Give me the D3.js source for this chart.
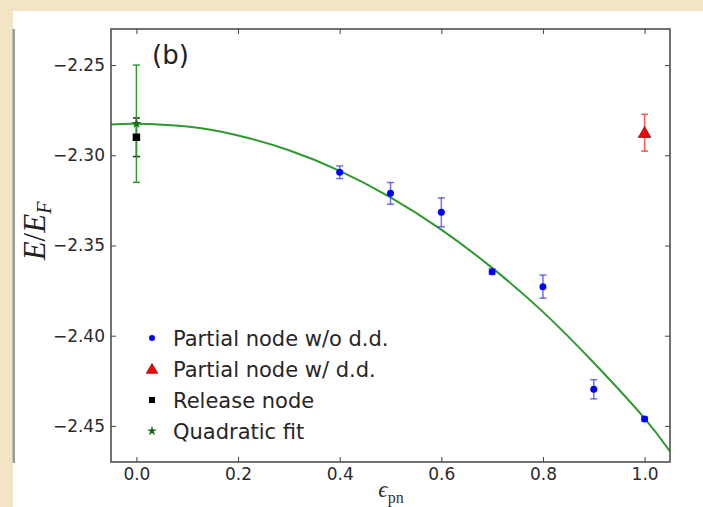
<!DOCTYPE html>
<html>
<head>
<meta charset="utf-8">
<title>E/EF vs epsilon_pn</title>
<style>
  body { margin: 0; background: #fff; }
  svg { display: block; }
</style>
</head>
<body>
<script src="https://d3js.org/d3.v7.min.js"></script>
<script>

// partial node without d.d.
var epsNoDD = [0.4, 0.5, 0.6, 0.7, 0.8, 0.9, 1.0];
var eNoDD   = [-2.3094, -2.3211, -2.3316, -2.3645, -2.3728, -2.4297, -2.4461];
var errNoDD = [0.0035, 0.0060, 0.0080, 0.0015, 0.0064, 0.0053, 0.0012];

// partial node with d.d.
var epsDD = [1.0];
var eDD   = [-2.2875];
var errDD = [0.0102];

// release node
var epsRel = [0.0];
var eRel   = [-2.2900];
var errRel = [0.0107];

// quadratic fit extrapolated value at 0
var epsFit0 = [0.0];
var eFit0   = [-2.2825];
var errFit0 = [0.0325];

// fit curve
var curveEps = [-0.05, 0.0, 0.1, 0.2, 0.3, 0.4, 0.5, 0.6, 0.7, 0.8, 0.9, 1.0, 1.05];
var curveE   = [-2.2829, -2.2825, -2.2841, -2.2890, -2.2972, -2.3086, -2.3233,
                -2.3412, -2.3624, -2.3868, -2.4150, -2.4458, -2.4642];

var xTicks = [0.0, 0.2, 0.4, 0.6, 0.8, 1.0];
var yTicks = [-2.45, -2.40, -2.35, -2.30, -2.25];

var legendLabels = ["Partial node w/o d.d.", "Partial node w/ d.d.", "Release node", "Quadratic fit"];

var W = 703, H = 507;
var pL = 111, pR = 670, pT = 29, pB = 462;

var svg = d3.select("body")
    .append("svg")
    .attr("width", W)
    .attr("height", H);

// slide background
svg.append("rect").attr("width", W).attr("height", H).attr("fill", "#f1e5c4");
svg.append("rect").attr("x", 13).attr("y", 11).attr("width", W - 13).attr("height", H - 11).attr("fill", "#ffffff");
svg.append("rect").attr("x", 12.5).attr("y", 29).attr("width", 2.5).attr("height", 434).attr("fill", "#9a9a9a");

var x = d3.scaleLinear().domain([-0.05, 1.05]).range([pL, pR]);
var y = d3.scaleLinear().domain([-2.47, -2.23]).range([pB, pT]);

var font = "'DejaVu Sans', sans-serif";

// axes with inward ticks
function styleAxis(g) {
  g.select(".domain").remove();
  g.selectAll(".tick line").attr("stroke", "#444").attr("stroke-width", 1);
  g.selectAll(".tick text").attr("fill", "#2a2a2a").style("font-family", font).style("font-size", "17px");
}

svg.append("g")
    .attr("transform", "translate(0," + pB + ")")
    .call(d3.axisBottom(x).tickValues(xTicks).tickFormat(d3.format(".1f")).tickSizeInner(-5).tickSizeOuter(0).tickPadding(6))
    .call(styleAxis);

svg.append("g")
    .attr("transform", "translate(0," + pT + ")")
    .call(d3.axisTop(x).tickValues(xTicks).tickFormat("").tickSizeInner(-5).tickSizeOuter(0))
    .call(styleAxis);

svg.append("g")
    .attr("transform", "translate(" + pL + ",0)")
    .call(d3.axisLeft(y).tickValues(yTicks).tickFormat(d3.format(".2f")).tickSizeInner(-5).tickSizeOuter(0).tickPadding(6))
    .call(styleAxis);

svg.append("g")
    .attr("transform", "translate(" + pR + ",0)")
    .call(d3.axisRight(y).tickValues(yTicks).tickFormat("").tickSizeInner(-5).tickSizeOuter(0))
    .call(styleAxis);

// fit curve
var line = d3.line()
    .x(function(d, i){ return x(curveEps[i]); })
    .y(function(d){ return y(d); })
    .curve(d3.curveNatural);

svg.append("clipPath").attr("id", "plotclip")
    .append("rect").attr("x", pL).attr("y", pT).attr("width", pR - pL).attr("height", pB - pT);

svg.append("path")
    .datum(curveE)
    .attr("clip-path", "url(#plotclip)")
    .attr("d", line)
    .attr("fill", "none")
    .attr("stroke", "#2e9a2e")
    .attr("stroke-width", 2);

// error bars
function errorBars(xs, ys, es, color, opacity) {
  var g = svg.append("g").attr("stroke", color).attr("stroke-opacity", opacity).attr("stroke-width", 1.5);
  xs.forEach(function(xv, i){
    var cx = x(xv), y0 = y(ys[i] - es[i]), y1 = y(ys[i] + es[i]);
    g.append("line").attr("x1", cx).attr("x2", cx).attr("y1", y0).attr("y2", y1);
    g.append("line").attr("x1", cx - 3.5).attr("x2", cx + 3.5).attr("y1", y0).attr("y2", y0);
    g.append("line").attr("x1", cx - 3.5).attr("x2", cx + 3.5).attr("y1", y1).attr("y2", y1);
  });
}

errorBars(epsNoDD, eNoDD, errNoDD, "#3333ff", 0.7);
errorBars(epsDD, eDD, errDD, "#ff3333", 0.8);
errorBars(epsRel, eRel, errRel, "#222", 1);
errorBars(epsFit0, eFit0, errFit0, "#2e9a2e", 1);

var tri = d3.symbol().type(d3.symbolTriangle).size(70);
var sq = d3.symbol().type(d3.symbolSquare).size(56);
var star = d3.symbol().type(d3.symbolStar).size(30);

// points
svg.append("g").selectAll("circle")
    .data(eNoDD)
    .enter()
    .append("circle")
    .attr("cx", function(d, i){ return x(epsNoDD[i]); })
    .attr("cy", function(d){ return y(d); })
    .attr("r", 3.5)
    .attr("fill", "#0000ff");

svg.append("g").selectAll("path")
    .data(eDD)
    .enter()
    .append("path")
    .attr("d", tri)
    .attr("transform", function(d, i){ return "translate(" + x(epsDD[i]) + "," + (y(d) + 1) + ")"; })
    .attr("fill", "#ff0000")
    .attr("stroke", "#000")
    .attr("stroke-width", 0.5);

svg.append("g").selectAll("path")
    .data(eRel)
    .enter()
    .append("path")
    .attr("d", sq)
    .attr("transform", function(d, i){ return "translate(" + x(epsRel[i]) + "," + y(d) + ")"; })
    .attr("fill", "#000");

svg.append("g").selectAll("path")
    .data(eFit0)
    .enter()
    .append("path")
    .attr("d", star)
    .attr("transform", function(d, i){ return "translate(" + x(epsFit0[i]) + "," + y(d) + ")"; })
    .attr("fill", "#1b6b1b");

// frame
svg.append("rect")
    .attr("x", pL).attr("y", pT)
    .attr("width", pR - pL).attr("height", pB - pT)
    .attr("fill", "none")
    .attr("stroke", "#444")
    .attr("stroke-width", 1.5);

// panel label
svg.append("text")
    .attr("x", 152).attr("y", 64)
    .style("font-family", font).style("font-size", "26px")
    .attr("fill", "#222")
    .text("(b)");

// legend
var legY = [338, 369, 400, 431];
var leg = svg.append("g");
var legMarks = [
  function(g){ g.append("circle").attr("r", 3).attr("fill", "#0000ff"); },
  function(g){ g.append("path").attr("d", d3.symbol().type(d3.symbolTriangle).size(60)).attr("transform", "translate(0,1)").attr("fill", "#ff0000").attr("stroke", "#000").attr("stroke-width", 0.4); },
  function(g){ g.append("path").attr("d", d3.symbol().type(d3.symbolSquare).size(36)).attr("fill", "#000"); },
  function(g){ g.append("path").attr("d", star).attr("fill", "#1b6b1b"); }
];
legendLabels.forEach(function(t, i){
  var g = leg.append("g").attr("transform", "translate(152," + legY[i] + ")");
  legMarks[i](g);
  leg.append("text")
    .attr("x", 173).attr("y", legY[i])
    .attr("dy", "0.36em")
    .style("font-family", font).style("font-size", "21px")
    .attr("fill", "#262626")
    .text(t);
});

// axis titles
var ylab = svg.append("text")
    .attr("transform", "translate(45,231) rotate(-90)")
    .attr("text-anchor", "middle")
    .style("font-family", "'Liberation Serif', serif")
    .style("font-size", "31px")
    .attr("fill", "#222");
ylab.append("tspan").style("font-style", "italic").text("E");
ylab.append("tspan").text("/");
ylab.append("tspan").style("font-style", "italic").text("E");
ylab.append("tspan").style("font-style", "italic").style("font-size", "20px").attr("dy", 6).text("F");

var xlab = svg.append("text")
    .attr("x", 391).attr("y", 497)
    .attr("text-anchor", "middle")
    .style("font-family", "'Liberation Serif', serif")
    .style("font-size", "23px")
    .attr("fill", "#333");
xlab.append("tspan").style("font-style", "italic").text("ϵ");
xlab.append("tspan").style("font-size", "16px").attr("dy", 6).text("pn");

</script>
</body>
</html>
